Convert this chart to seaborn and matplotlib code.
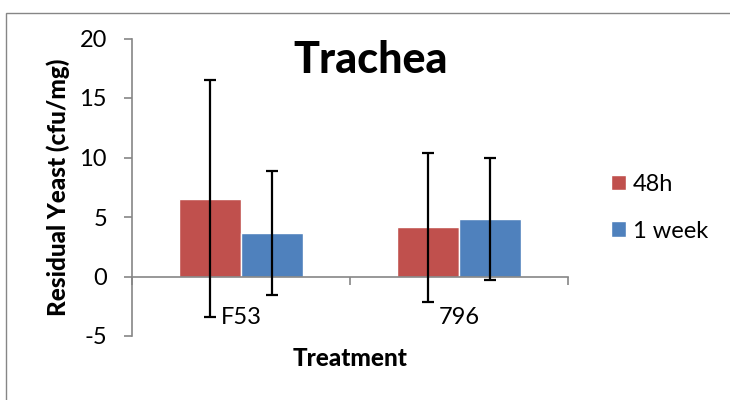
import pandas as pd
import matplotlib
matplotlib.use("Agg")
import matplotlib.pyplot as plt
import seaborn as sns
from matplotlib.patches import Rectangle
from matplotlib.ticker import FixedLocator

# data
treatments = ["F53", "796"]
time_points = ["48h", "1 week"]
mean_48h = [6.55, 4.15]
err_48h = [9.95, 6.27]
mean_1wk = [3.68, 4.83]
err_1wk = [5.22, 5.16]

RED = "#C0504D"
BLUE = "#4F81BD"
GRAY = "#868686"

df = pd.DataFrame({
    "Treatment": treatments * 2,
    "Time": [time_points[0]] * 2 + [time_points[1]] * 2,
    "Yeast": mean_48h + mean_1wk,
})
errors = [err_48h, err_1wk]

sns.set_theme(style="white")
plt.rcParams["font.family"] = ["Lato", "DejaVu Sans"]
plt.rcParams["axes.unicode_minus"] = False
plt.rcParams["text.color"] = "black"
plt.rcParams["axes.labelcolor"] = "black"

fig = plt.figure(figsize=(7.3, 4.0), dpi=100)
ax = fig.add_axes([132 / 730, 1 - 336 / 400, 436 / 730, 297.5 / 400])

sns.barplot(data=df, x="Treatment", y="Yeast", hue="Time", hue_order=time_points,
            palette=[RED, BLUE], width=0.57, errorbar=None, saturation=1,
            ax=ax)

# error bars at the bar centres
for cont, errs in zip(ax.containers, errors):
    xs = [b.get_x() + b.get_width() / 2 for b in cont]
    ys = [b.get_height() for b in cont]
    ax.errorbar(xs, ys, yerr=errs, fmt="none", ecolor="black",
                elinewidth=1.6, capsize=4, capthick=1.6, zorder=5)

ax.set_ylim(-5, 20)
ax.set_xlim(-0.5, 1.5)
ax.set_yticks([-5, 0, 5, 10, 15, 20])

for s in ["top", "right"]:
    ax.spines[s].set_visible(False)
ax.spines["bottom"].set_position(("data", 0))
for s in ["left", "bottom"]:
    ax.spines[s].set_color(GRAY)
    ax.spines[s].set_linewidth(1.2)

ax.tick_params(axis="y", direction="out", length=6, width=1.2, color=GRAY,
               pad=12, labelsize=17, labelcolor="black", left=True)
ax.tick_params(axis="x", which="major", length=0, pad=22, labelsize=17,
               labelcolor="black")
ax.xaxis.set_minor_locator(FixedLocator([-0.5, 0.5, 1.5]))
ax.tick_params(axis="x", which="minor", direction="out", length=6, width=1.2,
               color=GRAY, bottom=True)

ax.set_xlabel("Treatment", fontsize=17.5, fontweight="black", va="center")
ax.xaxis.set_label_coords(0.5, -0.074)
ax.set_ylabel("Residual Yeast (cfu/mg)", fontsize=17.5, fontweight="black", va="center")
ax.yaxis.set_label_coords(-0.17, 0.5)

ax.text(0.548, 0.928, "Trachea", transform=ax.transAxes, ha="center", va="center",
        fontsize=31, fontweight="black", color="black")

handles, labels = ax.get_legend_handles_labels()
ax.legend(handles, labels, loc="center left", bbox_to_anchor=(611 / 730, 0.481),
          bbox_transform=fig.transFigure, frameon=False, fontsize=17,
          handlelength=0.64, handleheight=0.64, handletextpad=0.3,
          labelspacing=1.1, borderpad=0, borderaxespad=0, title=None,
          labelcolor="black")

# chart-area frame
fig.add_artist(Rectangle((6 / 730, -0.1), 1.2, 1.1 - 13 / 400, transform=fig.transFigure,
                         fill=False, edgecolor=GRAY, linewidth=1))

fig.savefig("out.png", dpi=100)
